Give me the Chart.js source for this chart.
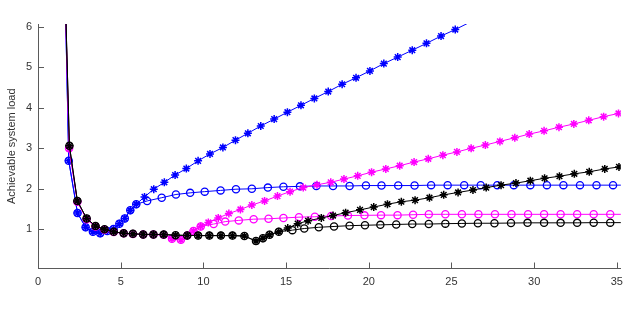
<!DOCTYPE html>
<html>
<head>
<meta charset="utf-8">
<script src="https://cdn.jsdelivr.net/npm/chart.js@4/dist/chart.umd.min.js"></script>
<style>
  body { margin: 0; background: #fff; }
</style>
</head>
<body>
<canvas id="myChart" width="630" height="315"></canvas>
<script>
// tick labels
const xTicks = [0, 5, 10, 15, 20, 25, 30, 35];
const yTicks = [1, 2, 3, 4, 5, 6];

// black: shared start, then star / circle branches
const blackStartX = [1.62, 1.90, 2.38, 2.94, 3.48, 4.02, 4.58, 5.18, 5.74, 6.36, 6.98, 7.6, 8.32, 9.02, 9.68, 10.36, 11.06, 11.76, 12.48, 13.18, 13.6, 14.0, 14.56];
const blackStartY = [7.2, 3.06, 1.70, 1.27, 1.08, 1.00, 0.94, 0.90, 0.89, 0.875, 0.875, 0.87, 0.855, 0.85, 0.845, 0.845, 0.845, 0.845, 0.835, 0.71, 0.78, 0.865, 0.94];
const blackStarX = [15.1, 15.7, 16.33, 17.13, 17.84, 18.6, 19.47, 20.3, 21.13, 21.97, 22.8, 23.67, 24.53, 25.4, 26.3, 27.1, 28.0, 28.9, 29.77, 30.63, 31.53, 32.43, 33.33, 34.27, 35.13];
const blackStarY = [1.03, 1.14, 1.21, 1.28, 1.34, 1.41, 1.48, 1.55, 1.62, 1.68, 1.72, 1.78, 1.85, 1.91, 1.97, 2.03, 2.09, 2.14, 2.20, 2.26, 2.31, 2.37, 2.42, 2.49, 2.54];
const blackCircleX = [15.38, 16.1, 16.98, 17.9, 18.84, 19.77, 20.7, 21.66, 22.63, 23.63, 24.63, 25.63, 26.6, 27.6, 28.6, 29.6, 30.6, 31.6, 32.6, 33.6, 34.6, 35.6];
const blackCircleY = [0.98, 1.02, 1.05, 1.07, 1.09, 1.10, 1.11, 1.12, 1.13, 1.13, 1.14, 1.145, 1.15, 1.15, 1.155, 1.16, 1.16, 1.16, 1.16, 1.165, 1.165, 1.165];

// magenta
const magStartX = [1.62, 1.88, 2.38, 2.94, 3.48, 4.02, 4.58, 5.18, 5.74, 6.36, 6.98, 7.6, 8.1, 8.64, 9.02, 9.4, 9.84];
const magStartY = [7.2, 3.0, 1.68, 1.25, 1.07, 0.99, 0.935, 0.9, 0.885, 0.87, 0.87, 0.865, 0.77, 0.74, 0.85, 0.96, 1.07];
const magStarX = [10.3, 10.9, 11.54, 12.24, 12.93, 13.7, 14.48, 15.24, 16.04, 16.87, 17.7, 18.5, 19.33, 20.17, 21.03, 21.87, 22.74, 23.6, 24.48, 25.33, 26.19, 27.05, 27.93, 28.83, 29.7, 30.6, 31.5, 32.4, 33.3, 34.2, 35.1];
const magStarY = [1.17, 1.28, 1.39, 1.49, 1.60, 1.70, 1.82, 1.93, 2.03, 2.10, 2.16, 2.24, 2.32, 2.41, 2.49, 2.57, 2.66, 2.74, 2.83, 2.91, 3.00, 3.08, 3.17, 3.26, 3.35, 3.43, 3.52, 3.60, 3.69, 3.78, 3.86];
const magCircleX = [10.62, 11.32, 12.14, 13.04, 13.94, 14.84, 15.78, 16.74, 17.73, 18.74, 19.74, 20.74, 21.74, 22.68, 23.63, 24.63, 25.63, 26.63, 27.63, 28.63, 29.63, 30.6, 31.6, 32.6, 33.6, 34.6, 35.6];
const magCircleY = [1.13, 1.19, 1.22, 1.25, 1.26, 1.28, 1.30, 1.31, 1.33, 1.34, 1.345, 1.35, 1.35, 1.36, 1.37, 1.37, 1.37, 1.37, 1.37, 1.37, 1.37, 1.37, 1.37, 1.37, 1.37, 1.37, 1.37];

// blue
const blueStartX = [1.62, 1.86, 2.39, 2.88, 3.32, 3.76, 4.19, 4.57, 4.92, 5.25, 5.58, 5.94];
const blueStartY = [7.2, 2.69, 1.40, 1.05, 0.94, 0.90, 0.96, 1.01, 1.14, 1.27, 1.47, 1.62];
const blueStarX = [6.44, 7.0, 7.64, 8.29, 8.97, 9.68, 10.4, 11.18, 11.94, 12.69, 13.47, 14.28, 15.08, 15.9, 16.71, 17.55, 18.39, 19.23, 20.07, 20.91, 21.75, 22.63, 23.49, 24.37, 25.23, 26.5];
const blueStarY = [1.80, 1.99, 2.16, 2.34, 2.50, 2.69, 2.86, 3.02, 3.20, 3.37, 3.55, 3.72, 3.89, 4.06, 4.23, 4.40, 4.58, 4.74, 4.91, 5.09, 5.25, 5.42, 5.59, 5.77, 5.93, 6.19];
const blueCircleX = [6.6, 7.48, 8.34, 9.2, 10.08, 11.04, 11.97, 12.93, 13.9, 14.84, 15.84, 16.83, 17.84, 18.84, 19.83, 20.77, 21.78, 22.77, 23.77, 24.77, 25.77, 26.77, 27.77, 28.77, 29.77, 30.77, 31.77, 32.77, 33.77, 34.77, 35.77];
const blueCircleY = [1.70, 1.78, 1.86, 1.90, 1.93, 1.96, 1.99, 2.00, 2.03, 2.05, 2.06, 2.07, 2.07, 2.07, 2.08, 2.08, 2.08, 2.08, 2.09, 2.09, 2.09, 2.09, 2.09, 2.09, 2.09, 2.09, 2.09, 2.09, 2.09, 2.09, 2.09];

const axisColor = '#5a5a5a';
const textColor = '#333333';

function pts(xs, ys) {
	return xs.map((x, i) => ({ x: x, y: ys[i] }));
}

function series(xs, ys, color, style) {
	const star = style === 'star';
	return {
		data: pts(xs, ys),
		showLine: true,
		borderColor: color,
		borderWidth: 1,
		pointStyle: style,
		pointRadius: star ? 4 : 3.6,
		pointBorderColor: color,
		pointBackgroundColor: 'rgba(0,0,0,0)',
		pointBorderWidth: star ? 1.5 : 1.3,
	};
}

// tick marks drawn inside the axes, like the original
const innerTicks = {
	id: 'innerTicks',
	afterDatasetsDraw(chart) {
		const { ctx, chartArea: a, scales: { x, y } } = chart;
		ctx.save();
		ctx.strokeStyle = axisColor;
		ctx.lineWidth = 1;
		ctx.beginPath();
		x.ticks.forEach(t => {
			const px = Math.round(x.getPixelForValue(t.value)) + 0.5;
			ctx.moveTo(px, a.bottom);
			ctx.lineTo(px, a.bottom - 6);
		});
		y.ticks.forEach(t => {
			const py = Math.round(y.getPixelForValue(t.value)) + 0.5;
			ctx.moveTo(a.left, py);
			ctx.lineTo(a.left + 6, py);
		});
		ctx.stroke();
		ctx.restore();
	}
};

const ctx = document.getElementById('myChart').getContext('2d');

const data = {
	datasets: [
		series(blackStartX.concat(blackStarX), blackStartY.concat(blackStarY), '#000000', 'star'),
		series(blackStartX.concat(blackCircleX), blackStartY.concat(blackCircleY), '#000000', 'circle'),
		series(magStartX.concat(magStarX), magStartY.concat(magStarY), '#ff00ff', 'star'),
		series(magStartX.concat(magCircleX), magStartY.concat(magCircleY), '#ff00ff', 'circle'),
		series(blueStartX.concat(blueStarX), blueStartY.concat(blueStarY), '#0000ff', 'star'),
		series(blueStartX.concat(blueCircleX), blueStartY.concat(blueCircleY), '#0000ff', 'circle'),
	]
};

const config = {
	type: 'scatter',
	data: data,
	plugins: [innerTicks],
	options: {
		responsive: false,
		animation: false,
		layout: { padding: { top: 24, right: 5, left: 0, bottom: 0 } },
		plugins: {
			legend: { display: false },
			tooltip: { enabled: false },
		},
		scales: {
			x: {
				type: 'linear',
				min: 0,
				max: 35.24,
				afterBuildTicks: s => { s.ticks = xTicks.map(v => ({ value: v })); },
				afterFit: s => { s.height = 46.5; },
				grid: { display: false, drawTicks: false },
				border: { display: true, color: axisColor, width: 1 },
				ticks: {
					padding: 7,
					color: textColor,
					font: { family: 'Liberation Sans, Arial, sans-serif', size: 11 },
				},
			},
			y: {
				type: 'linear',
				min: 0.033,
				max: 6.067,
				afterBuildTicks: s => { s.ticks = yTicks.map(v => ({ value: v })); },
				afterFit: s => { s.width = 38; },
				grid: { display: false, drawTicks: false },
				border: { display: true, color: axisColor, width: 1 },
				ticks: {
					padding: 6,
					color: textColor,
					font: { family: 'Liberation Sans, Arial, sans-serif', size: 11 },
				},
				title: {
					display: true,
					text: 'Achievable system load',
					color: textColor,
					padding: { top: 5, bottom: 0 },
					font: { family: 'Liberation Sans, Arial, sans-serif', size: 11 },
				},
			},
		},
	},
};

const mychart = new Chart(ctx, config);
</script>
</body>
</html>
